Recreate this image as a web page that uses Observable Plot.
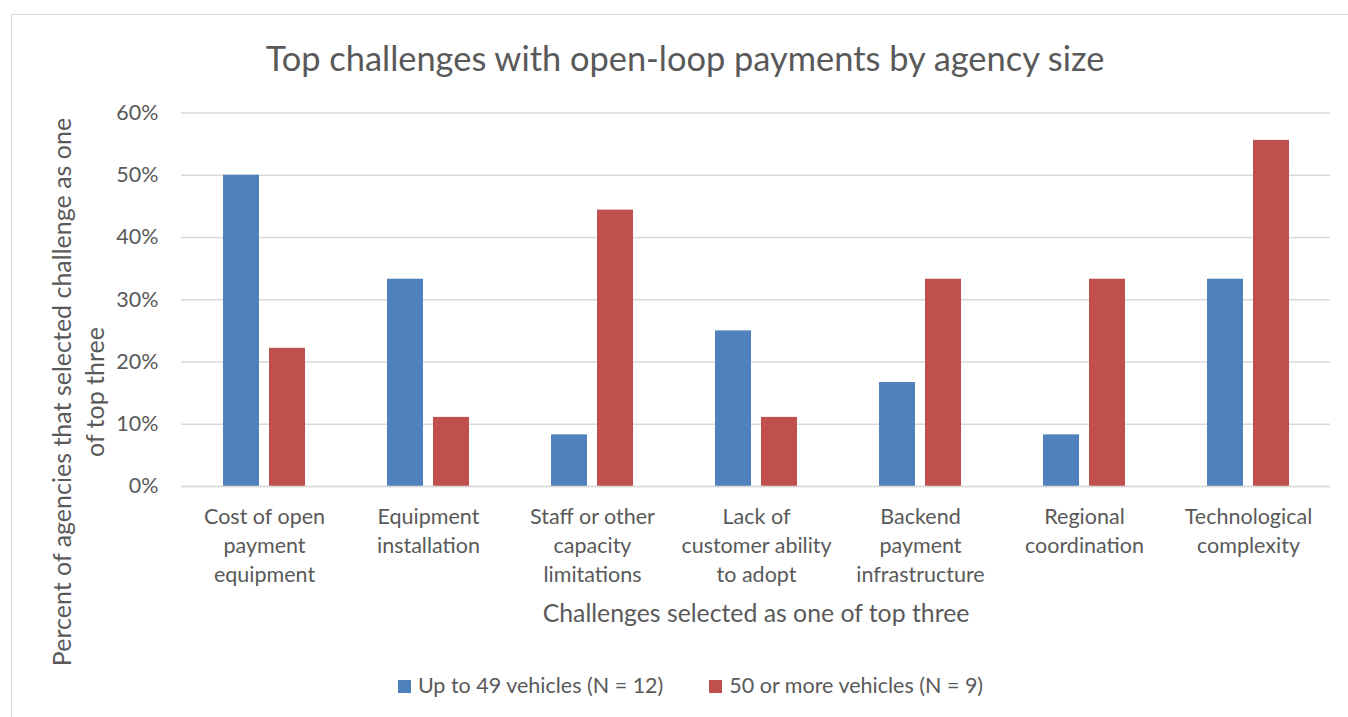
<!DOCTYPE html>
<html><head><meta charset="utf-8">
<script src="https://cdn.jsdelivr.net/npm/d3@7"></script>
<script src="https://cdn.jsdelivr.net/npm/@observablehq/plot@0.6"></script>
<style>
html,body{margin:0;padding:0;background:#fff;}
body{width:1348px;height:717px;position:relative;overflow:hidden;font-family:Lato,"Open Sans",sans-serif;color:#595959;}
#frame{position:absolute;left:11px;top:14px;width:1345px;height:720px;border:1.5px solid #d9d9d9;box-sizing:border-box;}
#title{position:absolute;left:0;width:1370px;top:36px;text-align:center;font-size:34.4px;line-height:44px;white-space:nowrap;}
#chart{position:absolute;left:0;top:90px;}
#ylabel{position:absolute;left:-272px;top:359px;width:700px;height:66px;line-height:33px;font-size:25px;text-align:center;transform:rotate(-90deg);transform-origin:center center;white-space:nowrap;}
#legend{position:absolute;left:0;width:1381px;top:671px;text-align:center;font-size:21.5px;line-height:28px;white-space:nowrap;}
#legend span.item{display:inline-block;margin:0 23px;}
#legend span.sw{display:inline-block;width:13px;height:13px;margin-right:7px;vertical-align:0px;}
</style>
</head><body>
<div id="frame"></div>
<div id="title">Top challenges with open-loop payments by agency size</div>
<div id="ylabel">Percent of agencies that selected challenge as one<br>of top three</div>
<div id="chart"></div>
<div id="legend"></div>
<script>
const categories = ["Cost", "Equipment", "Staff", "Lack", "Backend", "Regional", "Technological"];
const tickLabels = [
  "Cost of open\npayment\nequipment",
  "Equipment\ninstallation",
  "Staff or other\ncapacity\nlimitations",
  "Lack of\ncustomer ability\nto adopt",
  "Backend\npayment\ninfrastructure",
  "Regional\ncoordination",
  "Technological\ncomplexity"
];
const seriesNames = ["Up to 49 vehicles (N = 12)", "50 or more vehicles (N = 9)"];
const seriesColors = ["#4F81BD", "#C0504D"];
const smallAgencies = [0.50, 0.333, 0.083, 0.25, 0.167, 0.083, 0.333];
const largeAgencies = [0.222, 0.111, 0.444, 0.111, 0.333, 0.333, 0.556];
const yTicks = [0, 0.1, 0.2, 0.3, 0.4, 0.5, 0.6];
const xTitle = "Challenges selected as one of top three";

const rows = categories.map((c, i) => ({cat: c, small: smallAgencies[i], large: largeAgencies[i]}));
const labelOf = new Map(categories.map((c, i) => [c, tickLabels[i]]));

const chart = Plot.plot({
  width: 1348,
  height: 560,
  marginLeft: 181,
  marginRight: 18,
  marginTop: 22.5,
  marginBottom: 164,
  style: {fontFamily: "Lato, 'Open Sans', sans-serif", fontSize: "21.5px", color: "#595959", background: "transparent"},
  x: {domain: categories, padding: 0, axis: null},
  y: {domain: [0, 0.6], axis: null},
  marks: [
    Plot.gridY(yTicks, {stroke: "#d9d9d9", strokeOpacity: 1, strokeWidth: 1.3}),
    Plot.barY(rows, {x: "cat", y: "small", fill: seriesColors[0], insetLeft: 41, insetRight: 87}),
    Plot.barY(rows, {x: "cat", y: "large", fill: seriesColors[1], insetLeft: 87, insetRight: 41}),
    Plot.ruleY([0], {stroke: "#d9d9d9", strokeWidth: 1.5}),
    Plot.axisY(yTicks, {tickSize: 0, tickPadding: 23, tickFormat: d3.format(".0%"), fill: "#595959", fontSize: 21.5, label: null}),
    Plot.axisX({tickSize: 0, tickPadding: 17, tickFormat: d => labelOf.get(d), lineHeight: 1.35, fill: "#595959", fontSize: 21.5, label: null}),
    Plot.text([xTitle], {frameAnchor: "bottom", text: d => d, dy: 128, fontSize: 24.8, fill: "#595959", lineAnchor: "middle"})
  ]
});
document.getElementById("chart").appendChild(chart);

const legend = document.getElementById("legend");
seriesNames.forEach((name, i) => {
  const item = document.createElement("span");
  item.className = "item";
  const sw = document.createElement("span");
  sw.className = "sw";
  sw.style.background = seriesColors[i];
  item.appendChild(sw);
  item.appendChild(document.createTextNode(name));
  legend.appendChild(item);
});
</script>
</body></html>
